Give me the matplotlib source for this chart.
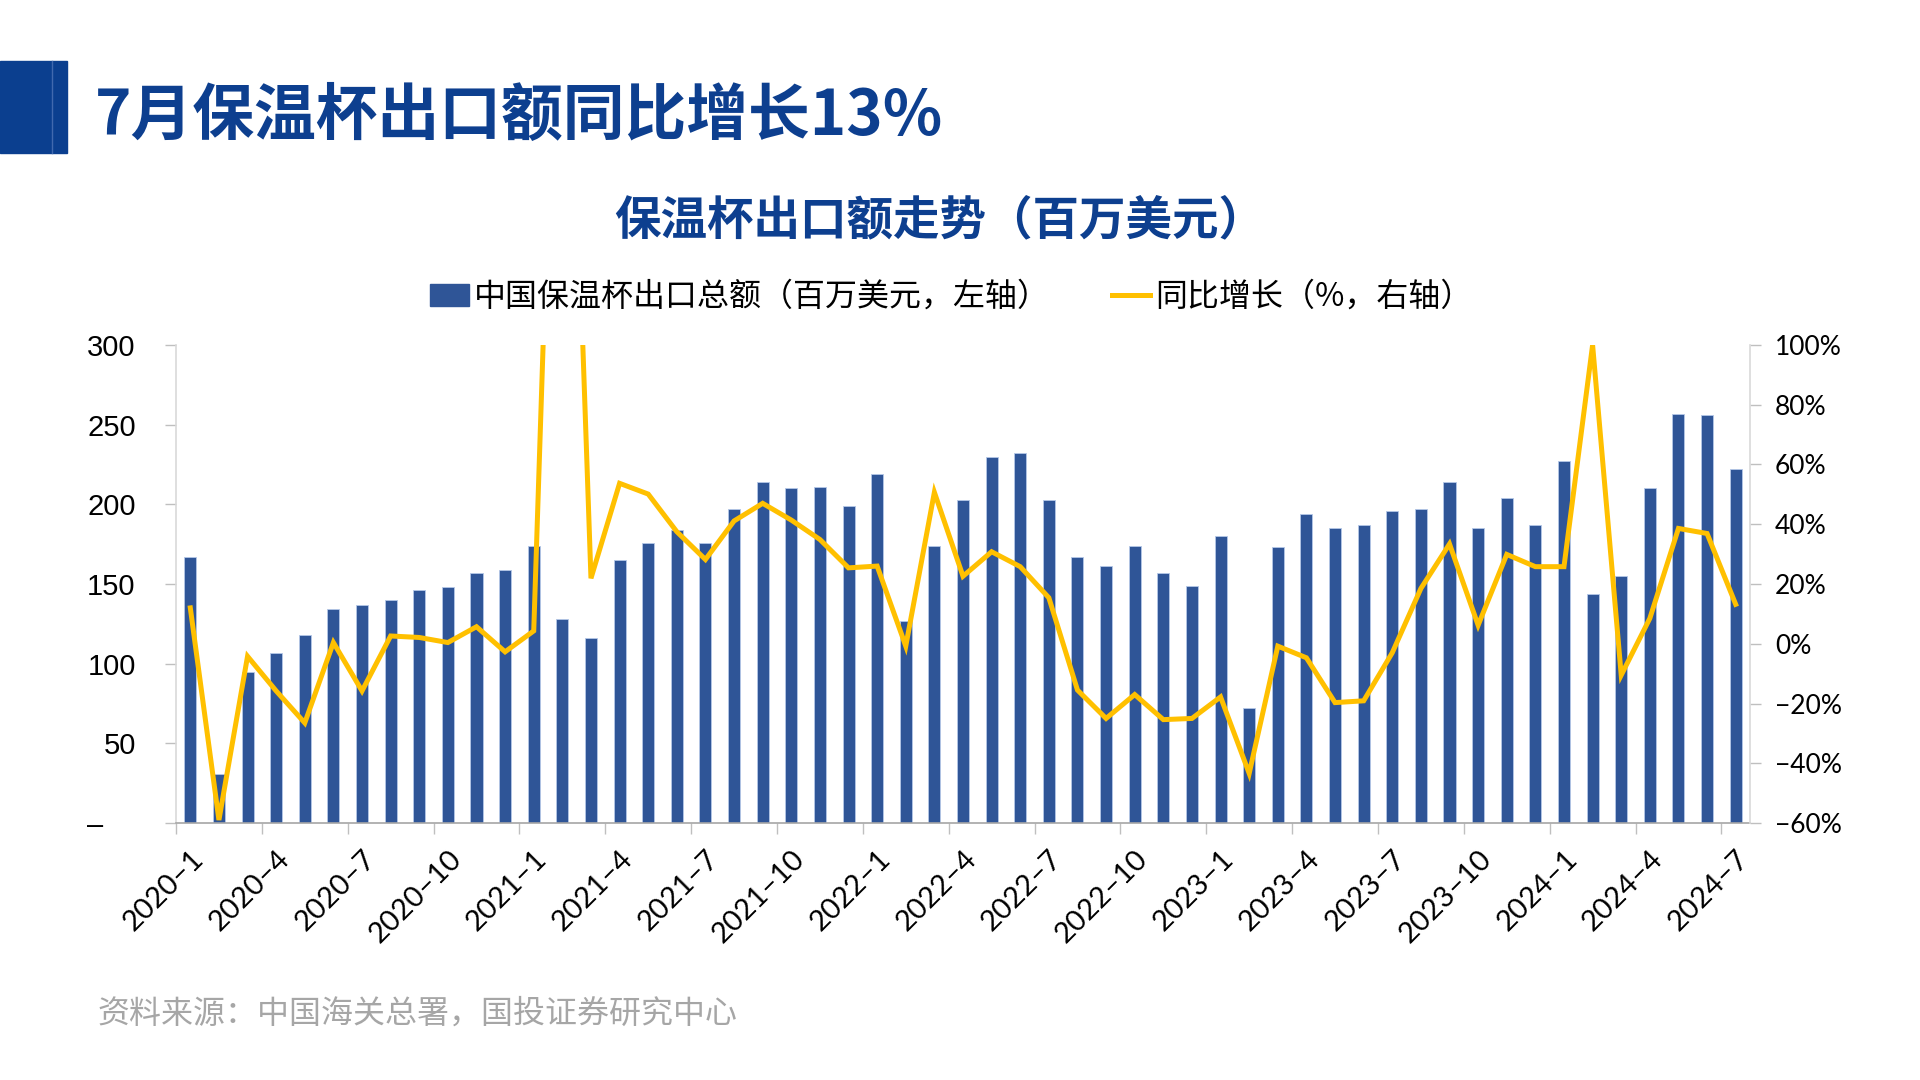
"""
保温杯出口额走势（百万美元）
"""
import matplotlib
matplotlib.use("Agg")
import matplotlib.pyplot as plt
from matplotlib.patches import Patch, Rectangle
from matplotlib.lines import Line2D

plt.rcParams['font.family'] = ['Noto Sans CJK SC', 'DejaVu Sans']

# Données
months = [f"{y}–{m}" for y in range(2020, 2025) for m in range(1, 13)][:55]
export_value = [
    167, 31, 95, 107, 118, 134, 137, 140, 146, 148, 157, 159,
    174, 128, 116, 165, 176, 184, 176, 197, 214, 210, 211, 199,
    219, 127, 174, 203, 230, 232, 203, 167, 161, 174, 157, 149,
    180, 72, 173, 194, 185, 187, 196, 197, 214, 185, 204, 187,
    227, 144, 155, 210, 257, 256, 222,
]
yoy_growth = [
    12.0, -59.0, -4.2, -15.8, -26.5, 0.4, -15.8, 2.6, 2.1, 0.4, 5.7, -2.7,
    4.3, 296.0, 21.9, 53.7, 50.1, 37.5, 28.2, 41.1, 47.0, 41.4, 34.9, 25.4,
    26.0, -0.8, 50.7, 22.6, 30.8, 25.8, 15.4, -15.5, -25.0, -17.0, -25.4, -25.0,
    -17.8, -43.4, -0.8, -4.7, -19.7, -19.1, -3.0, 18.5, 33.4, 6.2,
    29.9, 25.8, 25.8, 100.0, -10.5, 8.5, 38.6, 36.9, 13.2,
]
left_ticks = [0, 50, 100, 150, 200, 250, 300]
right_ticks = [-60, -40, -20, 0, 20, 40, 60, 80, 100]

BLUE = "#2F5597"
GOLD = "#FFC000"
TITLE_BLUE = "#0D3F8F"
GRID = "#BFBFBF"

fig = plt.figure(figsize=(19.2, 10.8), dpi=100)

# bandeau en haut à gauche
fig.patches.append(Rectangle((0, 1 - 153 / 1080), 67 / 1920, 92 / 1080,
                             transform=fig.transFigure, color="#0B3F8F"))
fig.lines.append(Line2D([52 / 1920, 52 / 1920], [1 - 153 / 1080, 1 - 61 / 1080],
                        transform=fig.transFigure, color="#4169AE", lw=1))

fig.text(0.0495, 0.8926, "7月保温杯出口额同比增长13%", fontsize=44.5,
         fontweight="bold", color=TITLE_BLUE, va="center", ha="left")
fig.text(0.4896, 0.796, "保温杯出口额走势（百万美元）", fontsize=33.5,
         fontweight="bold", color=TITLE_BLUE, va="center", ha="center")
fig.text(0.051, 0.061, "资料来源：中国海关总署，国投证券研究中心", fontsize=23,
         color="#A6A6A6", va="center", ha="left")

ax = fig.add_axes([176 / 1920, 1 - 823 / 1080, 1574 / 1920, 478 / 1080])
x = list(range(len(months)))
ax.bar(x, export_value, width=0.42, color=BLUE, edgecolor="#B4C7E7",
       linewidth=0.6, zorder=2)
ax.set_xlim(-0.5, len(months) - 0.5)
ax.set_ylim(0, 300)
ax.set_yticks(left_ticks)
ax.set_yticklabels(["–    "] + [str(v) for v in left_ticks[1:]],
                   fontfamily="Liberation Sans", fontsize=21)
ax.tick_params(axis="y", length=8, width=1, color=GRID, pad=21)

# ticks de l'axe x : traits aux limites, étiquettes au centre
ax.set_xticks([-0.5 + 3 * k for k in range(19)])
ax.set_xticklabels([])
ax.tick_params(axis="x", which="major", length=8, width=1, color=GRID)
ax.set_xticks(x[::3], minor=True)
ax.set_xticklabels(months[::3], minor=True, rotation=45, ha="right",
                   va="top", rotation_mode="anchor", fontfamily="Lato",
                   fontsize=21)
ax.tick_params(axis="x", which="minor", length=0, pad=16)

for side in ["top", "right"]:
    ax.spines[side].set_visible(False)
ax.spines["left"].set_color("#D9D9D9")
ax.spines["bottom"].set_color("#A6A6A6")
ax.spines["left"].set_linewidth(1.2)
ax.spines["bottom"].set_linewidth(1.2)

ax2 = ax.twinx()
ax2.plot(x, yoy_growth, color=GOLD, lw=3.6, zorder=3, solid_joinstyle="miter")
ax2.set_ylim(-60, 100)
ax2.set_yticks(right_ticks)
ax2.set_yticklabels([f"{v}%".replace("-", "−") for v in right_ticks],
                    fontfamily="Lato", fontsize=19)
ax2.tick_params(axis="y", length=8, width=1, color=GRID, pad=10)
for side in ["top", "left", "bottom"]:
    ax2.spines[side].set_visible(False)
ax2.spines["right"].set_color("#D9D9D9")
ax2.spines["right"].set_linewidth(1.2)

handles = [Patch(color=BLUE), Line2D([0], [0], color=GOLD, lw=3.6)]
labels = ["中国保温杯出口总额（百万美元，左轴）", "同比增长（%，右轴）"]
fig.legend(handles, labels, loc="center", bbox_to_anchor=(0.4955, 0.725),
           ncol=2, frameon=False, fontsize=23, handlelength=1.2,
           handletextpad=0.15, columnspacing=1.95)

fig.savefig("out.png", dpi=100)
